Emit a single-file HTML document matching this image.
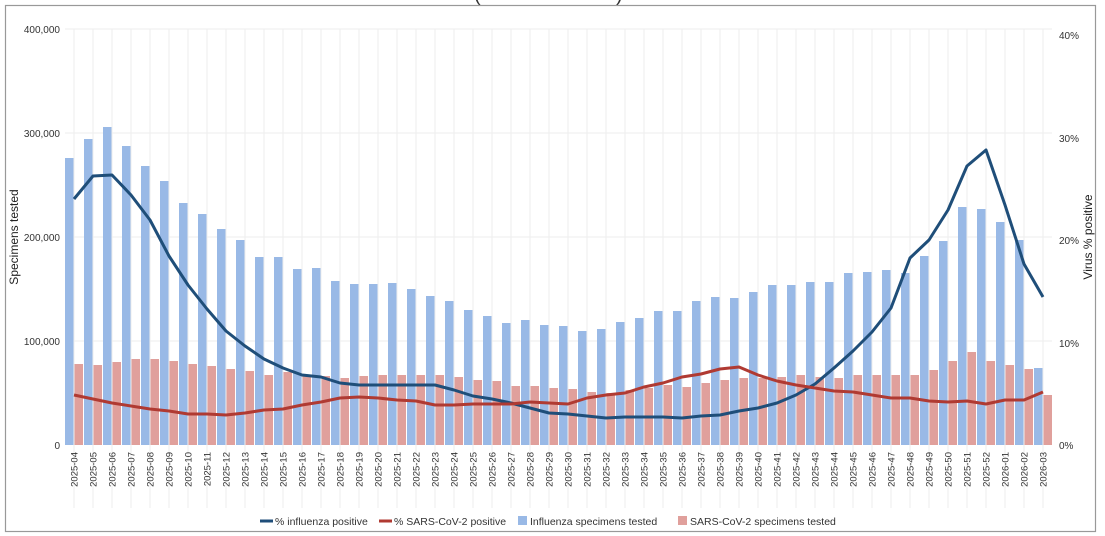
<!DOCTYPE html>
<html><head><meta charset="utf-8"><style>
html,body{margin:0;padding:0;background:#fff;}
svg{display:block;font-family:"Liberation Sans","DejaVu Sans",sans-serif;}
</style></head><body>
<svg id="s" width="1105" height="536" viewBox="0 0 1105 536" xmlns="http://www.w3.org/2000/svg">
<rect x="0" y="0" width="1105" height="536" fill="#fff"/>
<text x="474" y="1" font-size="20" fill="#333">(</text>
<text x="616" y="1" font-size="20" fill="#333">)</text>
<rect x="5.5" y="5.5" width="1090" height="526" fill="none" stroke="#999" stroke-width="1.2"/>
<g id="grid" stroke="#eee" stroke-width="1"></g>
<g id="bars"></g>
<g id="lines" fill="none" stroke-width="3" stroke-linejoin="round"></g>
<g font-size="10" fill="#333" text-anchor="end">
<text x="60" y="33">400,000</text><text x="60" y="137">300,000</text><text x="60" y="241">200,000</text><text x="60" y="345">100,000</text><text x="60" y="449">0</text>
</g>
<g font-size="10" fill="#333">
<text x="1059" y="39">40%</text><text x="1059" y="142">30%</text><text x="1059" y="244">20%</text><text x="1059" y="347">10%</text><text x="1059" y="449">0%</text>
</g>
<text transform="translate(18,237) rotate(-90)" font-size="12" fill="#222" text-anchor="middle">Specimens tested</text>
<text transform="translate(1092,237) rotate(-90)" font-size="12" fill="#222" text-anchor="middle">Virus % positive</text>
<g id="xl" font-size="9.5" fill="#333" text-anchor="end"></g>
<g font-size="10.5" fill="#333">
<line x1="260" y1="521" x2="273" y2="521" stroke="#1f4e79" stroke-width="3"/><text x="275" y="525">% influenza positive</text>
<line x1="379" y1="521" x2="392" y2="521" stroke="#b03a32" stroke-width="3"/><text x="394" y="525">% SARS-CoV-2 positive</text>
<rect x="518" y="516" width="9" height="9" fill="#99b9e6"/><text x="530" y="525">Influenza specimens tested</text>
<rect x="678" y="516" width="9" height="9" fill="#e0a09c"/><text x="690" y="525">SARS-CoV-2 specimens tested</text>
</g>
</svg>
<script>
var NS="http://www.w3.org/2000/svg";
function el(p,t,a){var e=document.createElementNS(NS,t);for(var k in a)e.setAttribute(k,a[k]);p.appendChild(e);return e;}
var labels=[];for(var w=4;w<=52;w++)labels.push("2025-"+(w<10?"0":"")+w);labels.push("2026-01","2026-02","2026-03");
var blue=[158,139,127,146,166,181,203,214,229,240,257,257,269,268,281,284,284,283,289,296,301,310,316,323,320,325,326,331,329,322,318,311,311,301,297,298,292,285,285,282,282,273,272,270,273,256,241,207,209,222,240,368];
var pink=[364,365,362,359,359,361,364,366,369,371,375,372,376,376,378,376,375,375,375,375,377,380,381,386,386,388,389,392,393,390,388,385,387,383,380,378,378,377,375,377,378,375,375,375,375,370,361,352,361,365,369,395];
var flu=[199,176,175,195,220,256,285,309,331,346,359,368,375,377,383,385,385,385,385,385,390,396,399,403,408,413,414,416,418,417,417,417,418,416,415,411,408,403,395,384,368,351,332,308,258,240,210,166,150,205,264,297];
var cov=[395,399,403,406,409,411,414,414,415,413,410,409,405,402,398,397,398,400,401,405,405,404,404,404,402,403,404,398,395,393,387,383,377,374,369,367,375,381,385,388,391,392,395,398,398,401,402,401,404,400,400,392];
var g=document.getElementById("grid"),b=document.getElementById("bars"),L=document.getElementById("lines"),X=document.getElementById("xl");
[29,133,237,341].forEach(function(y){el(g,"line",{x1:65,x2:1052,y1:y,y2:y});});
var pf="",pc="";
for(var i=0;i<52;i++){var c=74+19*i;
el(g,"line",{x1:c,x2:c,y1:29,y2:508});
el(b,"rect",{x:c-9,y:blue[i],width:8.5,height:445-blue[i],fill:"#99b9e6"});
el(b,"rect",{x:c+0.5,y:pink[i],width:8.5,height:445-pink[i],fill:"#e0a09c"});
pf+=(i?"L":"M")+c+" "+flu[i];pc+=(i?"L":"M")+c+" "+cov[i];
var t=el(X,"text",{transform:"translate("+(c+3.5)+",452) rotate(-90)"});t.textContent=labels[i];}
el(L,"path",{d:pf,stroke:"#1f4e79"});el(L,"path",{d:pc,stroke:"#b03a32"});
</script>
</body></html>
